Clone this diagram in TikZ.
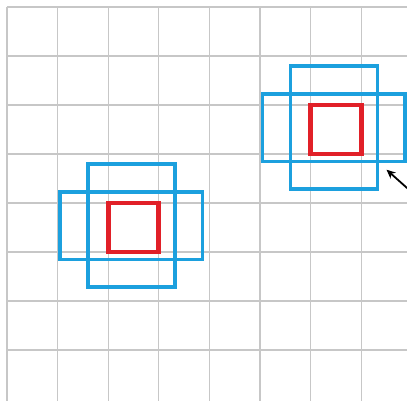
\documentclass[tikz,border=0pt]{standalone}
\usetikzlibrary{arrows.meta}
\definecolor{boxblue}{RGB}{28,160,222}
\definecolor{boxred}{RGB}{225,32,40}
\tikzset{
  gridline/.style={draw=black!22,line width=1.1pt},
  redbox/.style={draw=boxred,line width=4.8pt,minimum width=50.6pt,minimum height=49pt,inner sep=0pt},
  bluebox/.style={draw=boxblue,line width=3.6pt}
}
\begin{document}
\begin{tikzpicture}[x=50.6pt,y=49pt,>={Stealth[length=9pt,width=8pt]}]
  \useasboundingbox (-0.138,-0.02) rectangle (7.905,8.143);
  \fill[white] (-0.138,-0.02) rectangle (7.905,8.143);

  % grid
  \foreach \i in {0,...,7}
    \draw[gridline] (\i,-0.2) -- (\i,8);
  \foreach \j in {1,...,8}
    \draw[gridline] (0,\j) -- (8.1,\j);

  % boxes around the two cells
  \foreach \name/\cx/\cy in {left/2.5/3.5,right/6.5/5.5}{
    \draw[bluebox] (\cx-0.9,\cy-1.22) rectangle (\cx+0.82,\cy+1.29);
    \draw[bluebox] (\cx-1.45,\cy-0.65) rectangle (\cx+1.36,\cy+0.72);
    \node[redbox] (\name) at (\cx,\cy) {};
  }

  % arrow
  \coordinate (tip) at (7.5,4.68);
  \coordinate (tail) at (8.0,4.22);
  \draw[->,line width=1.8pt] (tail) -- (tip);
\end{tikzpicture}
\end{document}
